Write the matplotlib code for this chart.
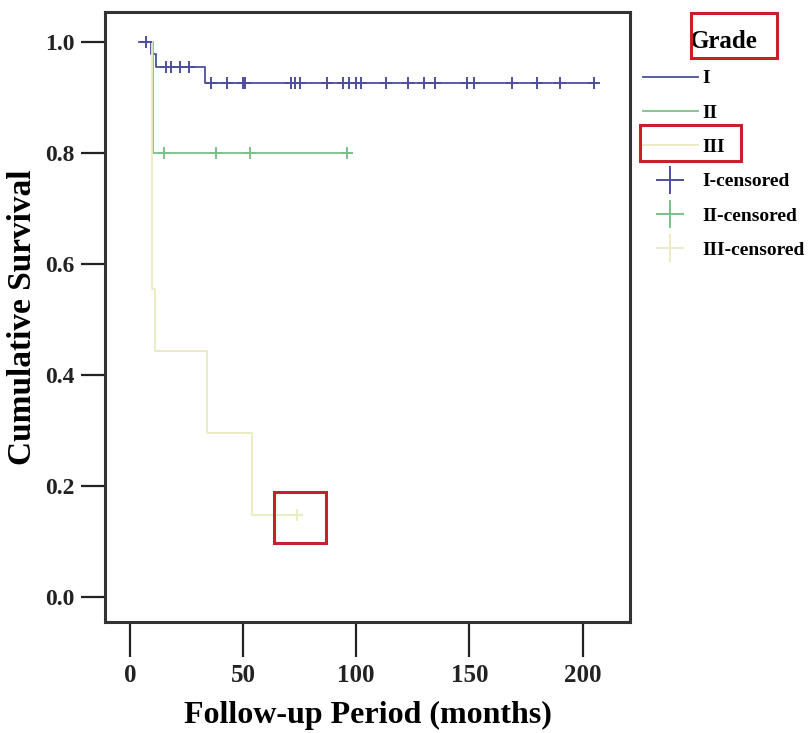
import matplotlib
matplotlib.use('Agg')
import matplotlib.pyplot as plt
from matplotlib.lines import Line2D
from matplotlib.patches import Rectangle

plt.rcParams['font.family'] = ['Liberation Serif', 'DejaVu Serif']
plt.rcParams['font.weight'] = 'bold'

# Kaplan-Meier step data (months, cumulative survival)
t_I = [4, 9.5, 11.5, 33, 205]
s_I = [1.0, 0.978, 0.955, 0.926, 0.926]
t_II = [9.5, 10, 97]
s_II = [1.0, 0.8, 0.8]
t_III = [9, 9.6, 11, 34, 54, 74]
s_III = [1.0, 0.556, 0.444, 0.296, 0.148, 0.148]

# censored observations
cens_I_t = [7, 16, 18, 22, 26, 36, 43, 50, 51, 71, 73, 75, 87, 94, 97, 100,
            102, 113, 123, 130, 135, 149, 152, 169, 180, 190, 205]
cens_I_s = [1.0, 0.955, 0.955, 0.955, 0.955] + [0.926] * 22
cens_II_t = [15, 38, 53, 96]
cens_II_s = [0.8, 0.8, 0.8, 0.8]
cens_III_t = [74]
cens_III_s = [0.148]

grades = ['I', 'II', 'III']
colors = ['#4b4f9e', '#7cbf8c', '#ecebc0']

fig = plt.figure(figsize=(8.11, 7.33), dpi=100)
ax = fig.add_axes([0.130, 0.1514, 0.647, 0.832])

ax.step(t_I, s_I, where='post', color=colors[0], lw=1.3)
ax.step(t_II, s_II, where='post', color=colors[1], lw=1.3)
ax.step(t_III, s_III, where='post', color=colors[2], lw=1.3)
ax.plot(cens_I_t, cens_I_s, '+', color=colors[0], ms=9, mew=1.4)
ax.plot(cens_II_t, cens_II_s, '+', color=colors[1], ms=9, mew=1.4)
ax.plot(cens_III_t, cens_III_s, '+', color=colors[2], ms=9, mew=1.4)

ax.set_xlim(-10.8, 221)
ax.set_ylim(-0.045, 1.054)
ax.set_xticks([0, 50, 100, 150, 200])
ax.set_yticks([0.0, 0.2, 0.4, 0.6, 0.8, 1.0])
ax.set_yticklabels(['0.0', '0.2', '0.4', '0.6', '0.8', '1.0'])
ax.tick_params(axis='x', direction='out', length=25, width=1.6,
               labelsize=18, colors='#222222', pad=5)
ax.tick_params(axis='y', direction='out', length=17, width=1.6,
               labelsize=17, colors='#222222', pad=5)
for sp in ax.spines.values():
    sp.set_linewidth(2.2)
    sp.set_color('#333333')

ax.set_xlabel('Follow-up Period (months)', fontsize=23, fontweight='bold', labelpad=10)
ax.set_ylabel('Cumulative Survival', fontsize=24, fontweight='bold')
ax.yaxis.set_label_coords(-0.128, 0.5)

handles = [Line2D([], [], color=c, lw=1.3) for c in colors]
handles += [Line2D([], [], color=c, marker='+', ls='none', ms=20, mew=1.4) for c in colors]
labels = grades + [g + '-censored' for g in grades]
leg = ax.legend(handles, labels, loc='upper left', bbox_to_anchor=(0.793, 0.959),
                bbox_transform=fig.transFigure, frameon=False, title='Grade',
                fontsize=14, title_fontsize=18, handlelength=2.8,
                handletextpad=0.25, labelspacing=0.86, borderpad=0,
                borderaxespad=0)
leg.get_title().set_fontweight('bold')

# red highlight boxes (pixel coords of the 811x733 image)
W, H = 811, 733
for x0, y0, x1, y1 in [(691, 13, 777, 58), (640, 125, 741, 161), (274, 492, 326, 543)]:
    fig.patches.append(Rectangle((x0 / W, 1 - y1 / H), (x1 - x0) / W, (y1 - y0) / H,
                                 transform=fig.transFigure, fill=False,
                                 edgecolor='#c8202a', lw=2.2))

fig.savefig('out.png', dpi=100)
